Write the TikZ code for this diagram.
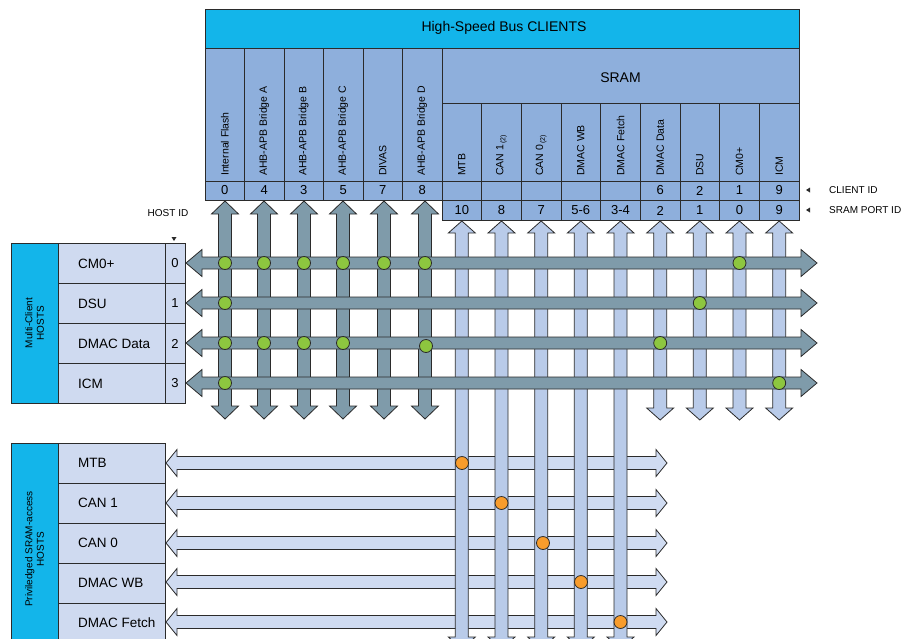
\documentclass[tikz,border=0pt]{standalone}
\usepackage{fontspec}
\setmainfont{Liberation Sans}
\definecolor{hdrblue}{HTML}{13B5EA}
\definecolor{colblue}{HTML}{8EAFDC}
\definecolor{hostlight}{HTML}{CFDAF0}
\definecolor{darkarrow}{HTML}{7F9BAA}
\definecolor{lightvert}{HTML}{B9CBE9}
\definecolor{lighthor}{HTML}{CFDBF1}
\definecolor{dotgreen}{HTML}{8DC63F}
\definecolor{dotorange}{HTML}{F89C2C}
\definecolor{edge}{HTML}{2B2B2B}
\newcommand\myHarrow[6]{% y, x1, x2, style, headlen, halfshaft
  \filldraw[#4] (#2,#1) -- ({#2+#5},{#1-13.5}) -- ({#2+#5},{#1-#6}) -- ({#3-#5},{#1-#6}) -- ({#3-#5},{#1-13.5}) -- (#3,#1) -- ({#3-#5},{#1+13.5}) -- ({#3-#5},{#1+#6}) -- ({#2+#5},{#1+#6}) -- ({#2+#5},{#1+13.5}) -- cycle;}
\newcommand\myVarrow[6]{% x, y1, y2, style, headlen, halfshaft
  \filldraw[#4] (#1,#2) -- ({#1+13.5},{#2+#5}) -- ({#1+#6},{#2+#5}) -- ({#1+#6},{#3-#5}) -- ({#1+13.5},{#3-#5}) -- (#1,#3) -- ({#1-13.5},{#3-#5}) -- ({#1-#6},{#3-#5}) -- ({#1-#6},{#2+#5}) -- ({#1-13.5},{#2+#5}) -- cycle;}
\begin{document}
\begin{tikzpicture}[x=1pt,y=-1pt,
  box/.style={draw=edge, line width=0.8pt, inner sep=0pt, outer sep=0pt, anchor=north west},
  hdrbox/.style={box, fill=hdrblue, font=\fontsize{14}{16}\selectfont},
  colbox/.style={box, fill=colblue},
  hostbox/.style={box, fill=hostlight},
  sidebox/.style={box, fill=hdrblue},
  collabel/.style={rotate=90, anchor=west, inner sep=0pt, font=\fontsize{10.5}{12}\selectfont},
  idtext/.style={font=\fontsize{13}{15}\selectfont, inner sep=0pt},
  hosttext/.style={anchor=west, inner sep=0pt, font=\fontsize{13.5}{16}\selectfont},
  smalltext/.style={font=\fontsize{10}{12}\selectfont, inner sep=0pt},
  sidetext/.style={rotate=90, align=center, font=\fontsize{10}{11.5}\selectfont, inner sep=0pt},
  darr/.style={fill=darkarrow, draw=edge, line width=0.8pt, line join=miter},
  lvarr/.style={fill=lightvert, draw=edge, line width=0.8pt, line join=miter},
  lharr/.style={fill=lighthor, draw=edge, line width=0.8pt, line join=miter},
  gdot/.style={circle, fill=dotgreen, draw=edge, line width=0.8pt, minimum size=13pt, inner sep=0pt},
  odot/.style={circle, fill=dotorange, draw=edge, line width=0.8pt, minimum size=13pt, inner sep=0pt},
  marker/.style={fill=edge}
]
\useasboundingbox (0,0) rectangle (903,638);
\begin{scope}
\clip (0,0) rectangle (903,638);
% ---------- header ----------
\node[hdrbox, minimum width=594pt, minimum height=39pt] (hdr) at (205,9) {};
\node[font=\fontsize{14}{16}\selectfont] (hdrtxt) at (504,28) {High-Speed Bus CLIENTS};
% ---------- left client columns ----------
\foreach \i/\lab/\id in {0/Internal Flash/0, 1/AHB-APB Bridge A/4, 2/AHB-APB Bridge B/3, 3/AHB-APB Bridge C/5, 4/DIVAS/7, 5/AHB-APB Bridge D/8}{
  \pgfmathsetmacro\cx{205+39.5*\i}
  \node[colbox, minimum width=39.5pt, minimum height=133pt] (c\i) at (\cx,48) {};
  \node[colbox, minimum width=39.5pt, minimum height=19pt] (cid\i) at (\cx,181) {};
  \node[collabel] (cl\i) at (\cx+19.75,176) {\lab};
  \node[idtext] (cidt\i) at (\cx+19.75,190.5) {\id};
}
% ---------- SRAM ----------
\node[colbox, minimum width=357pt, minimum height=55pt] (sram) at (442,48) {};
\node[font=\fontsize{14}{16}\selectfont] (sramtxt) at (620.5,78) {SRAM};
\foreach \i/\lab/\id/\pid in {0/MTB//10, 1/{CAN 1\raisebox{-2pt}{\fontsize{7}{7}\selectfont\,(2)}}//8, 2/{CAN 0\raisebox{-2pt}{\fontsize{7}{7}\selectfont\,(2)}}//7, 3/DMAC WB//5-6, 4/DMAC Fetch//3-4, 5/DMAC Data/6/2, 6/DSU/2/1, 7/CM0+/1/0, 8/ICM/9/9}{
  \pgfmathsetmacro\cx{442+39.667*\i}
  \node[colbox, minimum width=39.667pt, minimum height=78pt] (s\i) at (\cx,103) {};
  \node[colbox, minimum width=39.667pt, minimum height=19pt] (sid\i) at (\cx,181) {};
  \node[colbox, minimum width=39.667pt, minimum height=20pt] (spid\i) at (\cx,200) {};
  \node[collabel] (sl\i) at (\cx+19.83,176) {\lab};
  \node[idtext] (sidt\i) at (\cx+19.83,190.5) {\id};
  \node[idtext] (spidt\i) at (\cx+19.83,210.5) {\pid};
}
% ---------- right side labels ----------
\fill[marker] (806,190) -- (810,187.5) -- (810,192.5) -- cycle;
\fill[marker] (806,210) -- (810,207.5) -- (810,212.5) -- cycle;
\node[smalltext, anchor=west] (clientid) at (829,190) {CLIENT ID};
\node[smalltext, anchor=west] (sramport) at (829,210) {SRAM PORT ID};
% ---------- host id label ----------
\node[smalltext] (hostid) at (168,213) {HOST ID};
\fill[marker] (171.5,237) -- (176.5,237) -- (174,241) -- cycle;
% ---------- multi-client hosts ----------
\node[sidebox, minimum width=47pt, minimum height=160pt] (mc) at (11,243) {};
\node[sidetext] (mctxt) at (34.5,323) {Multi-Client\\HOSTS};
\foreach \i/\lab in {0/CM0+, 1/DSU, 2/DMAC Data, 3/ICM}{
  \pgfmathsetmacro\ry{243+40*\i}
  \node[hostbox, minimum width=107pt, minimum height=40pt] (h\i) at (58,\ry) {};
  \node[hostbox, minimum width=20pt, minimum height=40pt] (hid\i) at (165,\ry) {};
  \node[hosttext] (ht\i) at (78,\ry+20.5) {\lab};
  \node[idtext] (hidt\i) at (175,\ry+20.5) {\i};
}
% ---------- priviledged hosts ----------
\node[sidebox, minimum width=47pt, minimum height=230pt] (pv) at (11,443) {};
\node[sidetext] (pvtxt) at (34.5,549) {Priviledged SRAM-access\\HOSTS};
\foreach \i/\lab in {0/MTB, 1/CAN 1, 2/CAN 0, 3/DMAC WB, 4/DMAC Fetch}{
  \pgfmathsetmacro\ry{443+40*\i}
  \node[hostbox, minimum width=107pt, minimum height=40pt] (p\i) at (58,\ry) {};
  \node[hosttext] (pt\i) at (78,\ry+20) {\lab};
}
% ---------- light horizontal arrows (lower) ----------
\foreach \y in {463,503,543,582,622}{
  \myHarrow{\y}{166}{667}{lharr}{11}{6.5}
}
% ---------- light vertical arrows (SRAM ports) ----------
\foreach \i in {0,...,4}{
  \pgfmathsetmacro\vx{461.83+39.667*\i}
  \myVarrow{\vx}{221}{649}{lvarr}{12}{6.5}
}
\foreach \i in {5,...,8}{
  \pgfmathsetmacro\vx{461.83+39.667*\i}
  \myVarrow{\vx}{221}{420}{lvarr}{12}{6.5}
}
% ---------- dark vertical arrows ----------
\foreach \vx in {225,264,304,343,384,425}{
  \myVarrow{\vx}{201}{419}{darr}{13}{6.5}
}
% ---------- dark horizontal arrows ----------
\foreach \y in {263,303,343,383}{
  \myHarrow{\y}{186}{817}{darr}{16}{6}
}
% ---------- green connection dots ----------
\foreach \x/\y in {225/263,264/263,304/263,343/263,384/263,425/263,739.5/263,
                   225/303,699.8/303,
                   225/343,264/343,304/343,343/343,426/346,660.2/343,
                   225/383,779.2/383}{
  \node[gdot] at (\x,\y) {};
}
% ---------- orange connection dots ----------
\foreach \x/\y in {462/463,501.5/503,543/543,581/582,620.5/622}{
  \node[odot] at (\x,\y) {};
}
\end{scope}
\end{tikzpicture}
\end{document}
